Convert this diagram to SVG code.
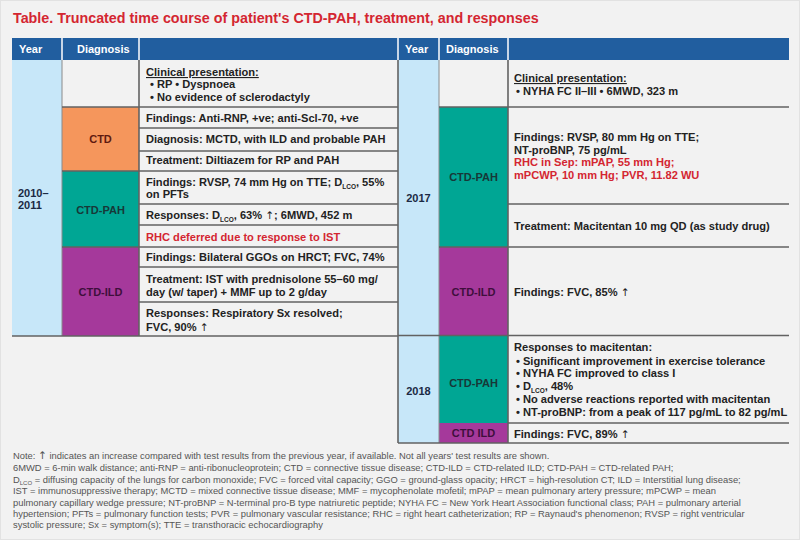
<svg xmlns="http://www.w3.org/2000/svg" width="800" height="540" viewBox="0 0 800 540">
<style>
text{font-family:"Liberation Sans",Arial,sans-serif;}
.t{font-size:11.1px;font-weight:bold;fill:#222;}
.r{fill:#d42631;}
.h{font-size:11px;font-weight:bold;fill:#fff;}
.dg{font-size:11px;font-weight:bold;text-anchor:middle;}
.yr{font-size:11px;font-weight:bold;fill:#1b2a44;}
.sub{font-size:6.5px;}
.ar{font-family:"DejaVu Sans",sans-serif;font-weight:normal;font-size:10.5px;}
.fn{font-size:9.4px;fill:#555;}
.ln{stroke:#626262;stroke-width:1.6;fill:none;}
.lt{stroke:#8a8a8a;stroke-width:1;fill:none;}
.wl{stroke:#fff;stroke-width:1.5;}
</style>
<rect x="0.5" y="0.5" width="799" height="539" fill="#f2f2f2" stroke="#e2e2e2"/>
<text x="13" y="23" font-size="14.3" font-weight="bold" fill="#d42631" font-family="Liberation Sans, Arial, sans-serif">Table. Truncated time course of patient's CTD-PAH, treatment, and responses</text>

<g id="header">
<rect x="12" y="38" width="777" height="22" fill="#215e9f"/>
<line class="wl" x1="62" y1="38" x2="62" y2="60"/>
<line class="wl" x1="139" y1="38" x2="139" y2="60"/>
<line class="wl" x1="398" y1="38" x2="398" y2="60"/>
<line class="wl" x1="439" y1="38" x2="439" y2="60"/>
<line class="wl" x1="508" y1="38" x2="508" y2="60"/>
<text class="h" x="19" y="53">Year</text>
<text class="h" x="77" y="53">Diagnosis</text>
<text class="h" x="405" y="53">Year</text>
<text class="h" x="446" y="53">Diagnosis</text>
</g>

<g id="year-2010-2011">
<rect x="12" y="60" width="50" height="276" fill="#c7e7f9"/>
<text class="yr" x="18" y="197">2010–</text>
<text class="yr" x="18" y="209">2011</text>
</g>
<g id="year-2017">
<rect x="398" y="60" width="41" height="275" fill="#c7e7f9"/>
<text class="yr" x="418.5" y="202" text-anchor="middle">2017</text>
</g>
<g id="year-2018">
<rect x="398" y="335" width="41" height="108" fill="#c7e7f9"/>
<text class="yr" x="418.5" y="395" text-anchor="middle">2018</text>
</g>

<g id="diag-ctd">
<rect x="62" y="107" width="77" height="64" fill="#f5965c"/>
<text class="dg" x="100.5" y="143" fill="#5e1a10">CTD</text>
</g>
<g id="diag-ctd-pah-2010">
<rect x="62" y="171" width="77" height="76" fill="#00a694"/>
<text class="dg" x="100.5" y="214" fill="#173838">CTD-PAH</text>
</g>
<g id="diag-ctd-ild-2010">
<rect x="62" y="247" width="77" height="89" fill="#a5399b"/>
<text class="dg" x="100.5" y="296" fill="#3e0f3c">CTD-ILD</text>
</g>
<g id="diag-ctd-pah-2017">
<rect x="439" y="107" width="69" height="140" fill="#00a694"/>
<text class="dg" x="473.5" y="181" fill="#173838">CTD-PAH</text>
</g>
<g id="diag-ctd-ild-2017">
<rect x="439" y="247" width="69" height="88" fill="#a5399b"/>
<text class="dg" x="473.5" y="296" fill="#3e0f3c">CTD-ILD</text>
</g>
<g id="diag-ctd-pah-2018">
<rect x="439" y="335" width="69" height="88" fill="#00a694"/>
<text class="dg" x="473.5" y="387" fill="#173838">CTD-PAH</text>
</g>
<g id="diag-ctd-ild-2018">
<rect x="439" y="423" width="69" height="20" fill="#a5399b"/>
<text class="dg" x="473.5" y="437" fill="#3e0f3c">CTD ILD</text>
</g>

<g id="lines">
<line class="lt" x1="62" y1="60" x2="62" y2="336"/>
<line class="ln" x1="139" y1="60" x2="139" y2="336"/>
<line class="ln" x1="398" y1="60" x2="398" y2="443"/>
<line class="lt" x1="439" y1="60" x2="439" y2="443"/>
<line class="ln" x1="508" y1="60" x2="508" y2="443"/>
<line class="ln" x1="62" y1="107" x2="398" y2="107"/>
<line class="ln" x1="139" y1="128" x2="398" y2="128"/>
<line class="ln" x1="139" y1="151" x2="398" y2="151"/>
<line class="ln" x1="62" y1="171" x2="398" y2="171"/>
<line class="ln" x1="139" y1="204" x2="398" y2="204"/>
<line class="ln" x1="139" y1="225" x2="398" y2="225"/>
<line class="ln" x1="62" y1="247" x2="398" y2="247"/>
<line class="ln" x1="139" y1="267" x2="398" y2="267"/>
<line class="ln" x1="139" y1="302" x2="398" y2="302"/>
<line class="ln" x1="12" y1="336" x2="398" y2="336"/>
<line class="ln" x1="439" y1="107" x2="789" y2="107"/>
<line class="ln" x1="508" y1="204" x2="789" y2="204"/>
<line class="ln" x1="439" y1="247" x2="789" y2="247"/>
<line class="ln" x1="398" y1="335.5" x2="789" y2="335.5"/>
<line class="ln" x1="508" y1="423" x2="789" y2="423"/>
<line class="ln" x1="398" y1="443" x2="789" y2="443"/>
</g>

<g id="content-2010">
<text class="t" x="146" y="76" text-decoration="underline">Clinical presentation:</text>
<text class="t" x="150" y="88">• RP • Dyspnoea</text>
<text class="t" x="150" y="101">• No evidence of sclerodactyly</text>
<text class="t" x="146" y="122">Findings: Anti-RNP, +ve; anti-Scl-70, +ve</text>
<text class="t" x="146" y="143">Diagnosis: MCTD, with ILD and probable PAH</text>
<text class="t" x="146" y="164">Treatment: Diltiazem for RP and PAH</text>
<text class="t" x="146" y="186">Findings: RVSP, 74 mm Hg on TTE; D<tspan class="sub" dy="2.5">LCO</tspan><tspan dy="-2.5">, 55%</tspan></text>
<text class="t" x="146" y="198">on PFTs</text>
<text class="t" x="146" y="219">Responses: D<tspan class="sub" dy="2.5">LCO</tspan><tspan dy="-2.5">, 63% </tspan><tspan class="ar">↑</tspan>; 6MWD, 452 m</text>
<text class="t r" x="146" y="241">RHC deferred due to response to IST</text>
<text class="t" x="146" y="261">Findings: Bilateral GGOs on HRCT; FVC, 74%</text>
<text class="t" x="146" y="283">Treatment: IST with prednisolone 55–60 mg/</text>
<text class="t" x="146" y="296">day (w/ taper) + MMF up to 2 g/day</text>
<text class="t" x="146" y="317">Responses: Respiratory Sx resolved;</text>
<text class="t" x="146" y="331">FVC, 90% <tspan class="ar">↑</tspan></text>
</g>

<g id="content-2017">
<text class="t" x="514" y="82" text-decoration="underline">Clinical presentation:</text>
<text class="t" x="516" y="95">• NYHA FC II–III • 6MWD, 323 m</text>
<text class="t" x="514" y="141">Findings: RVSP, 80 mm Hg on TTE;</text>
<text class="t" x="514" y="153.5">NT-proBNP, 75 pg/mL</text>
<text class="t r" x="514" y="166">RHC in Sep: mPAP, 55 mm Hg;</text>
<text class="t r" x="514" y="178.5">mPCWP, 10 mm Hg; PVR, 11.82 WU</text>
<text class="t" x="514" y="230">Treatment: Macitentan 10 mg QD (as study drug)</text>
<text class="t" x="514" y="296">Findings: FVC, 85% <tspan class="ar">↑</tspan></text>
</g>

<g id="content-2018">
<text class="t" x="514" y="351">Responses to macitentan:</text>
<text class="t" x="516" y="364.5">• Significant improvement in exercise tolerance</text>
<text class="t" x="516" y="377">• NYHA FC improved to class I</text>
<text class="t" x="516" y="390">• D<tspan class="sub" dy="2.5">LCO</tspan><tspan dy="-2.5">, 48%</tspan></text>
<text class="t" x="516" y="403">• No adverse reactions reported with macitentan</text>
<text class="t" x="516" y="416">• NT-proBNP: from a peak of 117 pg/mL to 82 pg/mL</text>
<text class="t" x="514" y="438">Findings: FVC, 89% <tspan class="ar">↑</tspan></text>
</g>

<g id="footnote">
<text class="fn" x="13" y="458.5">Note: <tspan class="ar" font-size="9">↑</tspan> indicates an increase compared with test results from the previous year, if available. Not all years' test results are shown.</text>
<text class="fn" x="13" y="470.5">6MWD = 6-min walk distance; anti-RNP = anti-ribonucleoprotein; CTD = connective tissue disease; CTD-ILD = CTD-related ILD; CTD-PAH = CTD-related PAH;</text>
<text class="fn" x="13" y="482.5">D<tspan font-size="6" dy="2.5">LCO</tspan><tspan dy="-2.5"> = diffusing capacity of the lungs for carbon monoxide; FVC = forced vital capacity; GGO = ground-glass opacity; HRCT = high-resolution CT; ILD = Interstitial lung disease;</tspan></text>
<text class="fn" x="13" y="494">IST = immunosuppressive therapy; MCTD = mixed connective tissue disease; MMF = mycophenolate mofetil; mPAP = mean pulmonary artery pressure; mPCWP = mean</text>
<text class="fn" x="13" y="505.5">pulmonary capillary wedge pressure; NT-proBNP = N-terminal pro-B type natriuretic peptide; NYHA FC = New York Heart Association functional class; PAH = pulmonary arterial</text>
<text class="fn" x="13" y="517">hypertension; PFTs = pulmonary function tests; PVR = pulmonary vascular resistance; RHC = right heart catheterization; RP = Raynaud's phenomenon; RVSP = right ventricular</text>
<text class="fn" x="13" y="528">systolic pressure; Sx = symptom(s); TTE = transthoracic echocardiography</text>
</g>
</svg>
